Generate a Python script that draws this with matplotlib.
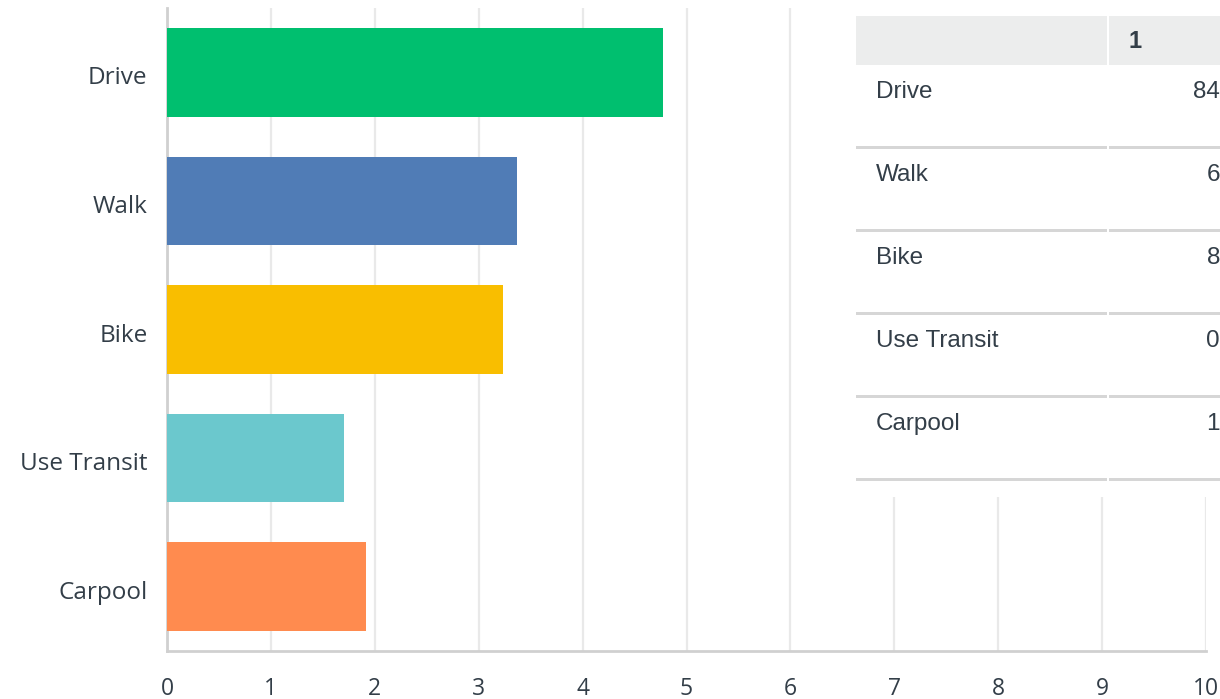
import matplotlib
matplotlib.use("Agg")
import matplotlib.pyplot as plt
import matplotlib.transforms as mtransforms
from matplotlib.patches import Rectangle

categories = ["Drive", "Walk", "Bike", "Use Transit", "Carpool"]
values = [4.77, 3.37, 3.23, 1.70, 1.92]
colors = ["#00bf6f", "#507cb6", "#f9be00", "#6bc8cd", "#ff8b4f"]
x_ticks = [0, 1, 2, 3, 4, 5, 6, 7, 8, 9, 10]
table_header = "1"
table_rows = ["Drive", "Walk", "Bike", "Use Transit", "Carpool"]
table_values = ["84", "6", "8", "0", "1"]

W, H = 1220, 699
fig = plt.figure(figsize=(W / 100, H / 100), dpi=100)
ax = fig.add_axes([167 / W, (H - 651) / H, (1206 - 167) / W, (651 - 8) / H])

ypos = list(range(len(categories)))
ax.barh(ypos, values, height=0.69, color=colors, zorder=3)
ax.set_ylim(len(categories) - 0.5, -0.5)
ax.set_xlim(0, 10)
ax.set_xticks(x_ticks)
ax.set_xticklabels([str(t) for t in x_ticks])
ax.set_yticks(ypos)
ax.set_yticklabels(categories)

txtc = "#333e48"
ax.tick_params(axis="x", length=0, pad=19, labelsize=16.5, labelcolor=txtc)
ax.tick_params(axis="y", length=0, pad=14, labelsize=17.5, labelcolor=txtc)
for lab in ax.get_xticklabels() + ax.get_yticklabels():
    lab.set_fontfamily("Open Sans")
offset = mtransforms.ScaledTranslation(0, -3 / 100, fig.dpi_scale_trans)
for lab in ax.get_yticklabels():
    lab.set_va("center_baseline")
    lab.set_transform(lab.get_transform() + offset)

ax.grid(axis="x", color="#e9e9e9", linewidth=1.6, zorder=0)
ax.grid(axis="y", visible=False)
for s in ["top", "right"]:
    ax.spines[s].set_visible(False)
for s in ["left", "bottom"]:
    ax.spines[s].set_color("#d0d0d0")
    ax.spines[s].set_linewidth(2)

# Table overlay (pixel coordinates converted to figure fraction)
def fx(px):
    return px / W

def fy(py):
    return (H - py) / H

def rect(x0, y0, x1, y1, color, z=10):
    fig.patches.append(Rectangle((fx(x0), fy(y1)), fx(x1) - fx(x0), fy(y0) - fy(y1),
                                 transform=fig.transFigure, facecolor=color,
                                 edgecolor="none", zorder=z))

# white background
rect(852, 0, W, 497, "white", z=5)
# header
rect(856, 16, 1107, 65, "#eceded", z=6)
rect(1109, 16, W, 65, "#eceded", z=6)
fig.text(fx(1135), fy(42), table_header, ha="center", va="center", fontsize=17,
         fontweight="bold", color=txtc, family="Liberation Sans", zorder=12)

row_h = 83
top = 65
for i, (name, val) in enumerate(zip(table_rows, table_values)):
    yc = top + i * row_h + 27
    fig.text(fx(876), fy(yc), name, ha="left", va="center", fontsize=17.5,
             color=txtc, family="Liberation Sans", zorder=12)
    fig.text(fx(1220), fy(yc), val, ha="right", va="center", fontsize=17.5,
             color=txtc, family="Liberation Sans", zorder=12)
    ysep = top + (i + 1) * row_h - 1
    rect(856, ysep - 1.5, 1107, ysep + 1.5, "#d6d6d6", z=7)
    rect(1109, ysep - 1.5, W, ysep + 1.5, "#d6d6d6", z=7)

fig.savefig("out.png", dpi=100, facecolor="white")
